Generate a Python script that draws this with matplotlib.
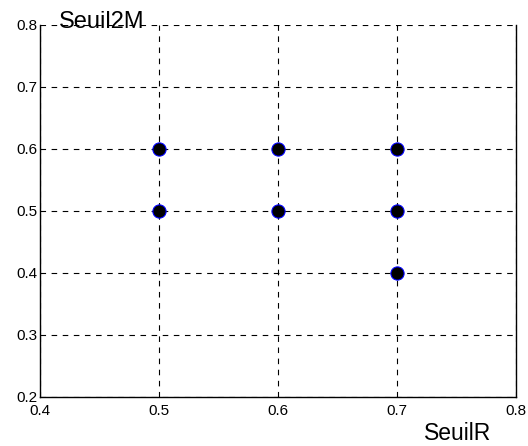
import matplotlib
matplotlib.use('Agg')
import matplotlib.pyplot as plt

plt.rcParams['font.family'] = ['Liberation Sans', 'DejaVu Sans']

# points (SeuilR, Seuil2M)
seuil_r = [0.5, 0.5, 0.6, 0.6, 0.7, 0.7, 0.7]
seuil_2m = [0.6, 0.5, 0.6, 0.5, 0.6, 0.5, 0.4]
x_ticks = [0.4, 0.5, 0.6, 0.7, 0.8]
y_ticks = [0.2, 0.3, 0.4, 0.5, 0.6, 0.7, 0.8]

fig = plt.figure(figsize=(5.28, 4.46), dpi=100)
ax = fig.add_axes([40 / 528, 1 - 397 / 446, 476 / 528, 372 / 446])

ax.plot(seuil_r, seuil_2m, 'o', color='black', markeredgecolor='blue',
        markersize=9.5, markeredgewidth=0.8, zorder=3)

ax.set_xlim(0.4, 0.8)
ax.set_ylim(0.2, 0.8)
ax.set_xticks(x_ticks)
ax.set_yticks(y_ticks)
ax.set_xticklabels([f'{v:g}' for v in x_ticks])
ax.set_yticklabels([f'{v:g}' for v in y_ticks])
ax.tick_params(direction='in', length=0, labelsize=11)
ax.tick_params(axis='x', pad=5)
ax.tick_params(axis='y', pad=2)
ax.grid(True, color='black', linestyle=(0, (5, 5)), linewidth=0.8)
ax.spines['top'].set_visible(False)
for s in ['left', 'right', 'bottom']:
    ax.spines[s].set_linewidth(1.0)

fig.text(102 / 528, 1 - 22 / 446, 'Seuil2M', fontsize=17, ha='center', va='center')
fig.text(458 / 528, 1 - 434 / 446, 'SeuilR', fontsize=16.5, ha='center', va='center')

fig.savefig('out.png', dpi=100)
